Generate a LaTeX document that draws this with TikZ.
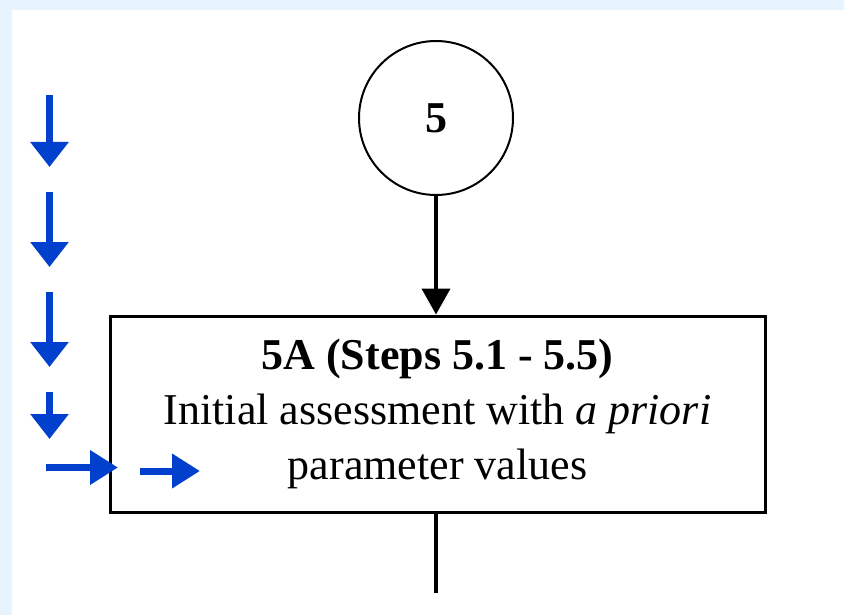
\documentclass[tikz,border=0pt]{standalone}
\usepackage{fontspec}
\setmainfont{Liberation Serif}
\usetikzlibrary{arrows.meta}
\definecolor{paleblue}{RGB}{232,244,253}
\definecolor{arrowblue}{RGB}{0,64,204}
\begin{document}
\begin{tikzpicture}[x=1pt,y=-1pt]
        \tikzstyle{every node}=[font=\fontsize{44}{55}\selectfont]
        \tikzstyle{flow}=[line width=4pt,-{Triangle[length=26pt,width=28pt]}]
        \tikzstyle{bluedown}=[arrowblue,line width=7pt,-{Triangle[length=25pt,width=37pt]}]
        \tikzstyle{blueright}=[arrowblue,line width=7pt,-{Triangle[length=28pt,width=33pt]}]
        \fill[paleblue] (0,0) rectangle (844,615);
        \fill[white] (12,10) rectangle (844,615);
        \useasboundingbox (0,0) rectangle (844,615);
        \node[draw,circle,line width=2pt,minimum size=154pt,inner sep=0pt] (step5) at (436,118) {\textbf{5}};
        \node[draw,rectangle,line width=3pt,minimum width=655pt,minimum height=196pt,align=center] (step5a) at (437.5,414)
            {\textbf{5A (Steps 5.1 - 5.5)}\\Initial assessment with \textit{a priori}\\parameter values};
        \coordinate (out5a) at (436,593);
        \draw[flow] (step5.south) -- (step5.south |- step5a.north);
        \draw[line width=4pt] (out5a |- step5a.south) -- (out5a);
        \foreach \top/\tip [count=\i] in {95/167,192/267,292/367,392/439} {
            \coordinate (down\i) at (49.5,\top);
            \coordinate (downtip\i) at (49.5,\tip);
            \draw[bluedown] (down\i) -- (downtip\i);
        }
        \coordinate (right1) at (46,467.5);
        \coordinate (righttip1) at (118,467.5);
        \coordinate (right2) at (140,471);
        \coordinate (righttip2) at (200,471);
        \draw[blueright] (right1) -- (righttip1);
        \draw[blueright] (right2) -- (righttip2);
    \end{tikzpicture}
\end{document}
